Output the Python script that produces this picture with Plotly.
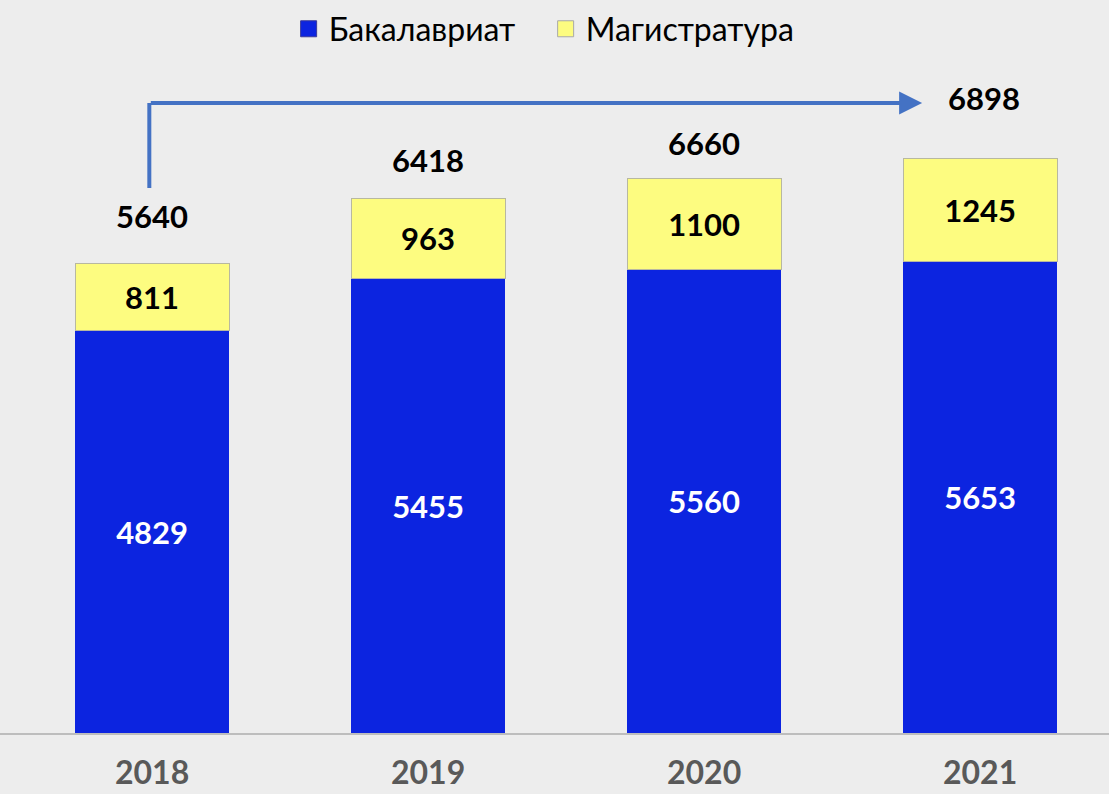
import plotly.graph_objects as go

years = ["2018", "2019", "2020", "2021"]
bachelor = [4829, 5455, 5560, 5653]
master = [811, 963, 1100, 1245]
totals = [5640, 6418, 6660, 6898]
series_names = ["Бакалавриат", "Магистратура"]

BLUE = "#0c24e0"
YELLOW = "#fdfc80"
BG = "#ededed"
FONT = "Lato"

# per-label vertical offsets (px) of total labels above bar tops
total_yshift = [26, 17, 14, 39]
total_xshift = [0, 0, 0, 4]

xi = list(range(len(years)))

fig = go.Figure()
fig.add_trace(go.Bar(
    x=xi, y=bachelor, marker=dict(color=BLUE, line=dict(width=0)),
    text=[str(v) for v in bachelor], textposition="inside", insidetextanchor="middle",
    textfont=dict(family=FONT, size=31, color="white", weight="bold"),
    showlegend=False, name=series_names[0]))
fig.add_trace(go.Bar(
    x=xi, y=master, marker=dict(color=YELLOW, line=dict(width=1, color="#b8b8a0")),
    text=[str(v) for v in master], textposition="inside", insidetextanchor="middle",
    textfont=dict(family=FONT, size=31, color="black", weight="bold"),
    showlegend=False, name=series_names[1]))

# legend-only entries
fig.add_trace(go.Scatter(x=[None], y=[None], mode="markers", name=series_names[0],
                         marker=dict(symbol="square", size=16, color=BLUE,
                                     line=dict(width=1, color="#3a3a9a"))))
fig.add_trace(go.Scatter(x=[None], y=[None], mode="markers", name=series_names[1],
                         marker=dict(symbol="square", size=16, color=YELLOW,
                                     line=dict(width=1, color="#a8a8a8"))))

for i, t in enumerate(totals):
    fig.add_annotation(x=xi[i], y=t, text=f"<b>{t}</b>", showarrow=False,
                       yanchor="bottom", yshift=total_yshift[i], xshift=total_xshift[i],
                       font=dict(family=FONT, size=31, color="black"))

# growth arrow from 2018 to 2021
ARROW = "#4472c4"
arrow_low = 6540
arrow_high = 7560
fig.add_shape(type="line", xref="x", yref="y", x0=-0.01, x1=-0.01,
              y0=arrow_low, y1=arrow_high, line=dict(color=ARROW, width=4))
fig.add_annotation(x=2.79, y=arrow_high, ax=-0.01, ay=arrow_high,
                   xref="x", yref="y", axref="x", ayref="y", text="",
                   showarrow=True, arrowhead=2, arrowsize=1.15, arrowwidth=4,
                   arrowcolor=ARROW, standoff=0, startstandoff=0)

fig.update_layout(
    width=1109, height=794,
    barmode="stack", bargap=0.442,
    paper_bgcolor=BG, plot_bgcolor=BG,
    margin=dict(l=0, r=0, t=0, b=61, autoexpand=False),
    font=dict(family=FONT),
    legend=dict(orientation="h", x=0.492, xanchor="center", y=0.998, yanchor="top",
                traceorder="normal", entrywidth=212, entrywidthmode="pixels",
                font=dict(family=FONT, size=32, color="black"),
                bgcolor="rgba(0,0,0,0)", itemwidth=30, tracegroupgap=0),
    xaxis=dict(range=[-0.551, 3.467], tickvals=xi, ticktext=years, automargin=False,
               showgrid=False, zeroline=False, showline=True, linecolor="#bdbdbd",
               linewidth=2, ticks="", ticklabelstandoff=11,
               tickfont=dict(family=FONT, size=32, color="#595959", weight="bold")),
    yaxis=dict(range=[0, 8796], visible=False, showgrid=False, zeroline=False),
)

fig.write_html("out.html", config={"displayModeBar": False},
               post_script="document.body.style.margin='0';document.body.style.overflow='hidden';")
